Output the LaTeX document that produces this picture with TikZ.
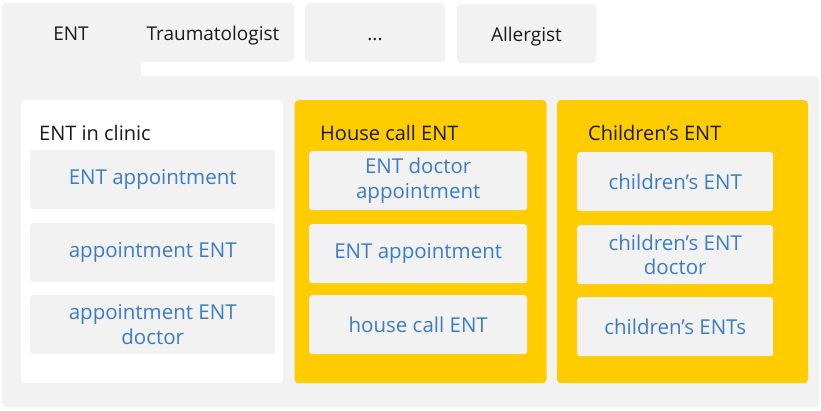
\documentclass[tikz,border=0pt]{standalone}
\usepackage{fontspec}
\setmainfont{Open Sans}
\usetikzlibrary{positioning}
\definecolor{panelgray}{HTML}{F2F2F2}
\definecolor{tabyellow}{HTML}{FFCC00}
\definecolor{linkblue}{HTML}{3B7CC6}
\definecolor{headblack}{HTML}{1A1A1A}

\begin{document}
\begin{tikzpicture}[x=1pt,y=-1pt,
  tabtext/.style={text=headblack,font=\fontsize{19}{23}\selectfont,inner sep=0pt,text height=15pt,text depth=0pt},
  tabbox/.style={tabtext,fill=panelgray,rounded corners=4pt,minimum height=59pt},
  panel/.style={anchor=north west,rounded corners=4pt,minimum height=283pt,inner sep=0pt},
  heading/.style={tabtext,anchor=base west,font=\fontsize{20}{24}\selectfont},
  query/.style={fill=panelgray,rounded corners=3pt,minimum height=59pt,inner sep=0pt,
    text=linkblue,align=center,font=\fontsize{20.5}{24.5}\selectfont}]
\useasboundingbox (0,0) rectangle (821,410);

% first tab joined to the big panel
\fill[panelgray,rounded corners=4pt] (2,3) rectangle (294,62);
\fill[panelgray,rounded corners=4pt] (2,76) rectangle (819,407);
\fill[panelgray] (2,40) rectangle (141,90);
\node[tabtext] (ent) at (71,32.5) {ENT};
\node[tabtext] (trauma) at (213,32.5) {Traumatologist};
\node[tabbox,minimum width=140pt] (dots) at (375,32.5) {...};
\node[tabbox,minimum width=139pt] (allergist) at (526.5,33.5) {Allergist};

% three columns
\node[panel,fill=white,minimum width=262pt] (clinic) at (21,100) {};
\node[panel,fill=tabyellow,minimum width=252pt,right=11pt of clinic.north east,anchor=north west] (house) {};
\node[panel,fill=tabyellow,minimum width=251pt,right=10pt of house.north east,anchor=north west] (kids) {};

\node[heading] (clinichead) at (39,140.5) {ENT in clinic};
\node[heading] (househead) at (320,140.5) {House call ENT};
\node[heading] (kidshead) at (588,140.5) {Children’s ENT};

% query boxes
\foreach \n/\y/\t in {1/150/{ENT appointment},2/223/{appointment ENT},3/295/{appointment ENT\\doctor}}
  \node[query,anchor=north west,minimum width=245pt] (clinic\n) at (30,\y) {\t};
\foreach \n/\y/\t in {1/151/{ENT doctor\\appointment},2/224/{ENT appointment},3/295/{house call ENT}}
  \node[query,anchor=north west,minimum width=218pt] (house\n) at (309,\y) {\t};
\foreach \n/\y/\t in {1/152/{children’s ENT},2/225/{children’s ENT\\doctor},3/297/{children’s ENTs}}
  \node[query,anchor=north west,minimum width=196pt] (kids\n) at (577,\y) {\t};
\end{tikzpicture}
\end{document}
